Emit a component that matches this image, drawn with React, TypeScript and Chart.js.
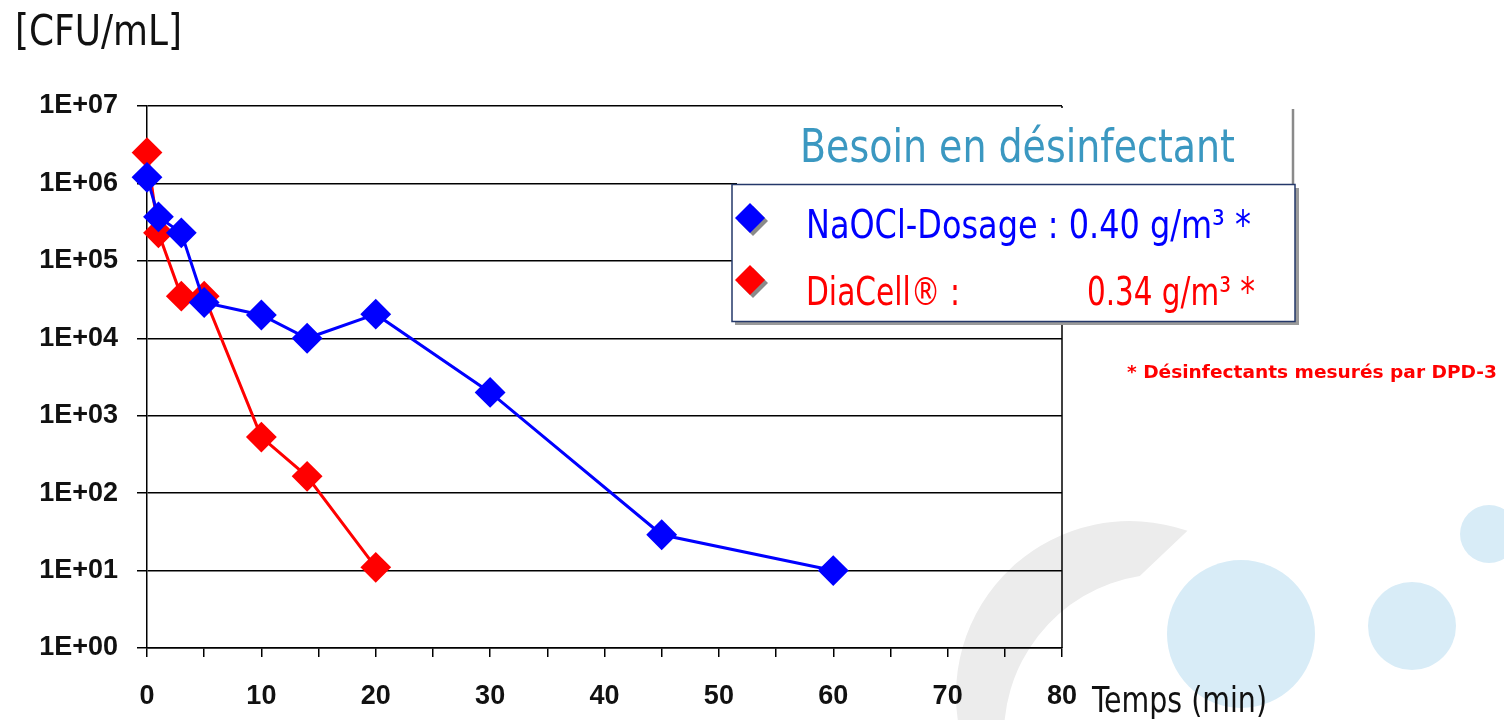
import React, { useEffect, useRef } from 'react';
import { Chart, registerables } from 'chart.js';

Chart.register(...registerables);

// ---- data ----
const timeNaOCl = [0, 1, 3, 5, 10, 14, 20, 30, 45, 60];
const cfuNaOCl = [1.2e6, 3.7e5, 2.3e5, 2.9e4, 2.0e4, 1.0e4, 2.05e4, 2.0e3, 29, 10];
const timeDiaCell = [0, 1, 3, 5, 10, 14, 20];
const cfuDiaCell = [2.5e6, 2.3e5, 3.5e4, 3.5e4, 5.3e2, 1.65e2, 11];
const yTickValues = [1, 10, 100, 1e3, 1e4, 1e5, 1e6, 1e7];
const yTickLabels = ['1E+00', '1E+01', '1E+02', '1E+03', '1E+04', '1E+05', '1E+06', '1E+07'];
const xTickValues = [0, 5, 10, 15, 20, 25, 30, 35, 40, 45, 50, 55, 60, 65, 70, 75, 80];
const xTickLabels = ['0', '', '10', '', '20', '', '30', '', '40', '', '50', '', '60', '', '70', '', '80'];
const seriesNames = ['NaOCl-Dosage', 'DiaCell®'];

const W = 1504;
const H = 720;
const COND = "'Liberation Sans Narrow', 'DejaVu Sans Condensed', 'Roboto', sans-serif";
const TICK_FONT = "'Liberation Sans', Arial, sans-serif";

function pt(cx: number, cy: number, r: number, deg: number) {
  const a = (deg * Math.PI) / 180;
  return `${(cx + r * Math.cos(a)).toFixed(1)} ${(cy + r * Math.sin(a)).toFixed(1)}`;
}

const arcPath = (() => {
  const o = { cx: 1130, cy: 695, r: 174 };
  const i = { cx: 1165, cy: 735, r: 161 };
  return `M ${pt(o.cx, o.cy, o.r, 165)} A ${o.r} ${o.r} 0 0 1 ${pt(o.cx, o.cy, o.r, 289.3)} L ${pt(i.cx, i.cy, i.r, 261)} A ${i.r} ${i.r} 0 0 0 ${pt(i.cx, i.cy, i.r, 175)} Z`;
})();

const framePlugin = {
  id: 'frameRight',
  beforeDatasetsDraw(chart: any) {
    const { ctx, chartArea } = chart;
    ctx.save();
    ctx.strokeStyle = '#000';
    ctx.lineWidth = 1.5;
    ctx.beginPath();
    ctx.moveTo(chartArea.right, chartArea.top);
    ctx.lineTo(chartArea.right, chartArea.bottom);
    ctx.stroke();
    ctx.restore();
  },
};

function diamond(cx: number, cy: number, r: number) {
  return `${cx},${cy - r} ${cx + r},${cy} ${cx},${cy + r} ${cx - r},${cy}`;
}

export default function App() {
  const ref = useRef<HTMLCanvasElement>(null);

  useEffect(() => {
    if (!ref.current) return;
    const chart = new Chart(ref.current, {
      type: 'line',
      data: {
        datasets: [
          {
            label: seriesNames[0],
            data: timeNaOCl.map((t, k) => ({ x: t, y: cfuNaOCl[k] })),
            borderColor: '#0000ff',
            backgroundColor: '#0000ff',
            borderWidth: 3,
            pointStyle: 'rectRot',
            pointRadius: 14,
            pointBorderWidth: 2,
            pointBackgroundColor: '#0000ff',
            pointBorderColor: '#0000ff',
            tension: 0,
            clip: false,
          },
          {
            label: seriesNames[1],
            data: timeDiaCell.map((t, k) => ({ x: t, y: cfuDiaCell[k] })),
            borderColor: '#ff0000',
            backgroundColor: '#ff0000',
            borderWidth: 3,
            pointStyle: 'rectRot',
            pointRadius: 14,
            pointBorderWidth: 2,
            pointBackgroundColor: '#ff0000',
            pointBorderColor: '#ff0000',
            tension: 0,
            clip: false,
          },
        ],
      } as any,
      options: {
        responsive: false,
        animation: false,
        devicePixelRatio: 1,
        layout: { padding: { left: 0, top: 106, right: W - 1062, bottom: 0 } },
        plugins: {
          legend: { display: false },
          tooltip: { enabled: false },
          title: { display: false },
        },
        scales: {
          x: {
            type: 'linear',
            min: 0,
            max: 80,
            afterFit: (s: any) => {
              s.height = 72;
            },
            afterBuildTicks: (s: any) => {
              s.ticks = xTickValues.map((v) => ({ value: v }));
            },
            ticks: {
              callback: (_v: any, i: number) => xTickLabels[i],
              font: { family: TICK_FONT, size: 27, weight: 'bold' },
              color: '#111',
              padding: 23,
              maxRotation: 0,
              autoSkip: false,
            },
            grid: { drawOnChartArea: false, drawTicks: true, tickLength: 9, color: '#000', lineWidth: 1.5 },
            border: { display: true, color: '#000', width: 1.5 },
          },
          y: {
            type: 'logarithmic',
            min: 1,
            max: 1e7,
            afterFit: (s: any) => {
              s.width = 147;
            },
            afterBuildTicks: (s: any) => {
              s.ticks = yTickValues.map((v) => ({ value: v }));
            },
            ticks: {
              callback: (_v: any, i: number) => yTickLabels[i],
              font: { family: TICK_FONT, size: 27, weight: 'bold' },
              color: '#111',
              padding: 19,
              autoSkip: false,
            },
            grid: { color: '#000', lineWidth: 1.5, drawTicks: true, tickLength: 10 },
            border: { display: true, color: '#000', width: 1.5 },
          },
        },
      } as any,
      plugins: [framePlugin],
    });
    return () => chart.destroy();
  }, []);

  const abs: React.CSSProperties = { position: 'absolute', left: 0, top: 0 };

  return (
    <div style={{ position: 'fixed', left: 0, top: 0, width: W, height: H, background: '#fff', overflow: 'hidden' }}>
      <svg width={W} height={H} style={abs}>
        <path d={arcPath} fill="#ececec" />
        <circle cx={1241} cy={634} r={74} fill="#d8ecf7" />
        <circle cx={1412} cy={626} r={44} fill="#d8ecf7" />
        <circle cx={1489} cy={534} r={29} fill="#d8ecf7" />
      </svg>
      <canvas ref={ref} width={W} height={H} style={{ ...abs, display: 'block', width: W, height: H }} />
      <svg width={W} height={H} style={{ ...abs, pointerEvents: 'none' }}>
        <text x={15} y={45} fontFamily={COND} fontSize={42} fill="#111" textLength={167} lengthAdjust="spacingAndGlyphs">
          [CFU/mL]
        </text>
        {/* title box */}
        <rect x={737} y={108} width={556} height={77} fill="#fff" />
        <line x1={1293} y1={109} x2={1293} y2={185} stroke="#8a8a8a" strokeWidth={2.5} />
        <text x={800} y={162} fontFamily={COND} fontSize={46} fill="#3b98c1" textLength={435} lengthAdjust="spacingAndGlyphs">
          Besoin en désinfectant
        </text>
        {/* legend box */}
        <rect x={735} y={188} width={564} height={137} fill="#9a9a9a" />
        <rect x={732} y={184.5} width={563} height={137} fill="#fff" stroke="#24386a" strokeWidth={1.5} />
        <polygon points={diamond(753, 221, 15)} fill="#8a8a8a" />
        <polygon points={diamond(750, 218, 15)} fill="#0000ff" />
        <polygon points={diamond(753, 283, 15)} fill="#8a8a8a" />
        <polygon points={diamond(750, 280, 15)} fill="#ff0000" />
        <text x={806} y={238} fontFamily={COND} fontSize={39} fill="#0000ff" textLength={445} lengthAdjust="spacingAndGlyphs">
          NaOCl-Dosage : 0.40 g/m³ *
        </text>
        <text x={806} y={305} fontFamily={COND} fontSize={39} fill="#ff0000" textLength={154} lengthAdjust="spacingAndGlyphs">
          DiaCell® :
        </text>
        <text x={1087} y={305} fontFamily={COND} fontSize={39} fill="#ff0000" textLength={168} lengthAdjust="spacingAndGlyphs">
          0.34 g/m³ *
        </text>
        <text x={1127} y={378} fontFamily={COND} fontSize={18} fontWeight="bold" fill="#ff0000" textLength={370} lengthAdjust="spacingAndGlyphs">
          * Désinfectants mesurés par DPD-3
        </text>
        <text x={1092} y={712} fontFamily={COND} fontSize={35} fill="#111" textLength={175} lengthAdjust="spacingAndGlyphs">
          Temps (min)
        </text>
      </svg>
    </div>
  );
}
